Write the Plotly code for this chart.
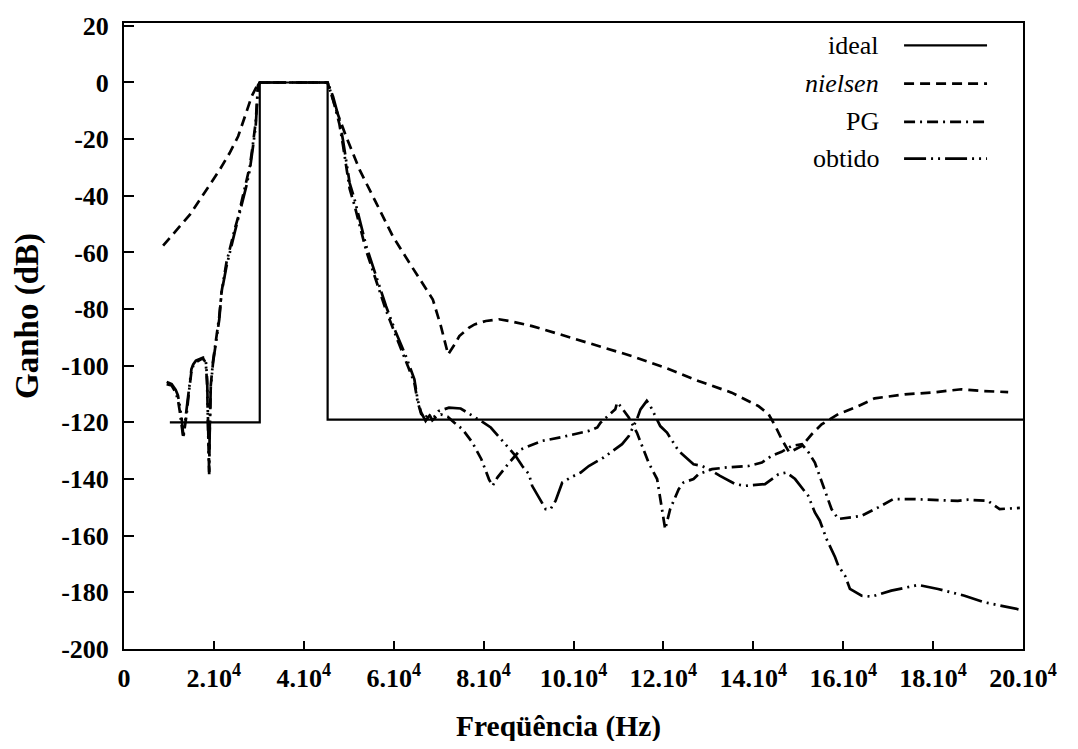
import plotly.graph_objects as go

# ---------------- Dados ----------------
ideal_f = [10200, 30200, 30200, 45300, 45300, 200000]
ideal_g = [-120, -120, 0, 0, -119, -119]

nielsen_f = [8700, 11900, 14700, 16900, 19100, 21300, 23500, 25400, 26900, 28400, 29800, 30200,
             45300, 47200, 49400, 52400, 56100, 59800, 63500, 66400, 68700, 70500, 72100,
             73800, 74600, 76800, 78000, 80500, 82000, 83400, 85700, 90800, 98200, 105600,
             113000, 120400, 127800, 135200, 141100, 143400, 144900, 146300, 148000, 150800,
             153000, 155200, 158900, 162600, 167000, 173700, 179600, 186300, 190700, 196700]
nielsen_g = [-57.6, -51.9, -46.6, -41.3, -36.1, -30.8, -24.9, -19.0, -12.0, -4.9, -0.5, 0,
             0, -9.6, -19.0, -30.8, -42.5, -54.3, -63.7, -70.7, -76.6, -86.0, -96.0,
             -91.9, -89.5, -86.5, -85.4, -84.2, -83.9, -83.6, -84.2, -86.0, -89.5, -93.1,
             -96.6, -100.7, -105.4, -109.5, -114.2, -117.1, -121.3, -125.9, -130.6, -128.3,
             -124.2, -120.7, -117.1, -114.8, -111.5, -110.1, -109.5, -108.3, -108.9, -109.3]

pg_f = [9500, 10600, 11500, 12000, 12400, 12800, 13200, 13500, 13900, 14500, 15000, 15400,
        16000, 17000, 17600, 18200, 18500, 18700, 18850, 18950, 19050, 19300, 19800, 20500,
        21200, 21700, 22800, 24600, 25400, 26100, 27200, 28000, 28700, 29300, 29600, 29800,
        30200, 45300, 46500, 47900, 48700, 49400, 50200, 51300, 52400, 53900, 56100, 58300,
        60500, 62700, 64600, 65300, 66100, 67000, 67800, 68600, 69500, 70500, 72000, 73500,
        75300, 77500, 79500, 81200, 82000, 83100, 85700, 88300, 93100, 97100, 103400, 105300,
        106000, 109300, 109700, 110600, 111600, 112300, 114100, 116700, 118600, 120400,
        121500, 123400, 124500, 126700, 127800, 130800, 134100, 138900, 141900, 144100,
        146300, 148500, 150800, 152300, 153700, 154500, 156000, 157400, 158900, 164100,
        167800, 171100, 175900, 180400, 185500, 187700, 192200, 194800, 197400, 199300]
pg_g = [-106.5, -107.0, -109.5, -112.0, -116.0, -120.0, -125.5, -122.0, -117.5, -108.5, -102.0, -100.0,
        -98.8, -97.8, -97.4, -99.0, -107.0, -122.0, -134.0, -137.5, -124.0, -107.0, -98.5, -90.5,
        -82.5, -74.0, -63.5, -52.0, -47.5, -42.5, -35.5, -29.5, -21.5, -14.0, -6.5, -1.0,
        0, 0, -6.0, -14.5, -22.0, -29.0, -37.5, -43.5, -50.5, -59.5, -70.0, -80.5,
        -89.5, -98.0, -106.0, -112.5, -117.0, -118.5, -116.8, -119.3, -118.0, -117.2, -118.0, -120.1,
        -122.4, -127.1, -133.0, -140.1, -142.4, -139.4, -134.2, -129.5, -126.5, -125.3, -123.0, -121.8,
        -120.1, -115.4, -113.0, -114.5, -117.0, -118.3, -123.6, -134.2, -140.0, -157.7,
        -150.6, -143.6, -141.2, -140.0, -138.3, -136.5, -135.9, -135.4, -134.2, -131.8,
        -130.4, -128.3, -127.7, -130.6, -134.2, -137.7, -144.7, -150.6, -154.1, -153.0,
        -150.0, -147.1, -147.1, -147.4, -147.7, -147.3, -147.7, -150.6, -150.4, -150.2]

obtido_f = [9500, 10600, 11500, 12000, 12400, 12800, 13200, 13500, 13900, 14500, 15000, 15400,
            16000, 17000, 17600, 18200, 18500, 18700, 18850, 18950, 19050, 19300, 19800, 20500,
            21200, 21700, 22800, 24600, 25400, 26100, 27200, 28000, 28700, 29300, 29600, 29800,
            30200, 45300, 46500, 47900, 48700, 49400, 50200, 51300, 52400, 53900, 56100, 58300,
            60500, 62700, 64600, 65300, 66100, 67100, 68000, 68800, 70000, 72300, 74900, 76400,
            79400, 81600, 83100, 84600, 87100, 88600, 90100, 90800, 92700, 93800, 94900, 96000,
            97500, 99400, 101600, 103400, 106700, 108600, 110800, 112300, 114100, 114900, 116300,
            117100, 119300, 120800, 122700, 123400, 126700, 128600, 130800, 132600, 136000,
            138200, 142600, 145600, 147400, 149300, 152200, 153700, 154800, 155600, 156300,
            158200, 158900, 160400, 161500, 164100, 166300, 170700, 176700, 181100, 187000,
            191400, 199000]
obtido_g = [-105.7, -106.5, -108.5, -110.5, -114.0, -118.3, -124.8, -121.0, -117.0, -108.0, -101.2, -99.5,
            -98.2, -97.5, -97.1, -98.0, -105.0, -120.0, -132.0, -138.3, -125.0, -107.7, -99.0, -92.0,
            -83.6, -74.2, -64.9, -53.1, -48.4, -43.7, -36.7, -30.8, -22.6, -15.5, -7.3, -1.4,
            0, 0, -4.9, -13.1, -20.2, -27.2, -35.5, -41.3, -48.4, -57.8, -68.4, -79.0,
            -88.3, -96.6, -104.8, -111.8, -116.5, -119.5, -117.5, -118.5, -116.0, -114.8, -115.1, -116.5,
            -119.5, -121.8, -124.5, -127.1, -131.8, -135.4, -138.3, -142.4, -147.7, -150.6, -150.6, -147.7,
            -141.2, -139.4, -137.7, -135.4, -132.4, -130.1, -127.7, -124.8, -118.9, -115.4, -112.4,
            -114.2, -121.3, -123.6, -128.3, -130.1, -134.8, -135.4, -137.1, -138.9, -141.8,
            -142.4, -141.8, -138.3, -137.7, -140.0, -145.9, -151.8, -154.7, -158.3, -161.2,
            -167.6, -170.6, -174.1, -178.8, -181.2, -181.5, -179.4, -177.4, -178.8, -181.2,
            -183.5, -186.0]

x_ticks = [0, 20000, 40000, 60000, 80000, 100000, 120000, 140000, 160000, 180000, 200000]
x_ticktext = ["0"] + [f"{k}.10<sup>4</sup>" for k in range(2, 21, 2)]
y_ticks = list(range(-200, 21, 20))
y_ticktext = [str(v) for v in y_ticks]  # hífen simples, como no original

series = [
    ("ideal", ideal_f, ideal_g, "solid", 2.2),
    ("<i>nielsen</i>", nielsen_f, nielsen_g, "10px,6px", 2.7),
    ("PG", pg_f, pg_g, "11px,5px,2px,5px", 2.7),
    ("obtido", obtido_f, obtido_g, "22px,5px,2px,5px,2px,5px", 2.7),
]

SERIF = "Liberation Serif, Times New Roman, serif"

# ---------------- Figura ----------------
fig = go.Figure()
for nome, f, g, dash, w in series:
    fig.add_trace(go.Scatter(x=f, y=g, mode="lines", name=nome,
                             line=dict(color="black", width=w, dash=dash),
                             showlegend=False))

# legenda à moda antiga: texto à esquerda, amostra da linha à direita
leg_y = [0.9644, 0.9033, 0.8420, 0.7835]
for (nome, f, g, dash, w), yy in zip(series, leg_y):
    fig.add_annotation(x=0.842, y=yy, xref="paper", yref="paper", text=nome,
                       showarrow=False, xanchor="right", yanchor="middle",
                       font=dict(family=SERIF, size=26, color="black"))
    fig.add_shape(type="line", xref="paper", yref="paper", x0=0.8677, x1=0.960, y0=yy, y1=yy,
                  line=dict(color="black", width=w, dash=dash))

# títulos dos eixos
fig.add_annotation(x=0.4828, y=-0.124, xref="paper", yref="paper", showarrow=False,
                   text="<b>Freqüência (Hz)</b>", xanchor="center", yanchor="middle",
                   font=dict(family=SERIF, size=29.5, color="black"))
fig.add_annotation(x=-0.1068, y=0.532, xref="paper", yref="paper", showarrow=False,
                   text="<b>Ganho (dB)</b>", textangle=-90, xanchor="center", yanchor="middle",
                   font=dict(family=SERIF, size=33, color="black"))

tick_font = dict(family=SERIF, size=26, color="black", weight="bold")
fig.update_layout(
    width=1062, height=733,
    margin=dict(l=116, r=47, t=15, b=92),
    paper_bgcolor="white", plot_bgcolor="white",
    font=dict(family=SERIF, color="black"),
    xaxis=dict(range=[0, 200000], tickvals=x_ticks, ticktext=x_ticktext, automargin=False,
               showgrid=False, zeroline=False, showline=True, mirror=True,
               linecolor="black", linewidth=2, ticks="inside", ticklen=8, tickwidth=2,
               tickcolor="black", tickfont=tick_font, ticklabelstandoff=5),
    yaxis=dict(range=[-200, 21], tickvals=y_ticks, ticktext=y_ticktext, automargin=False,
               showgrid=False, zeroline=False, showline=True, mirror=True,
               linecolor="black", linewidth=2, ticks="inside", ticklen=10, tickwidth=2,
               tickcolor="black", tickfont=tick_font, ticklabelstandoff=8),
)

fig.write_html("out.html")
